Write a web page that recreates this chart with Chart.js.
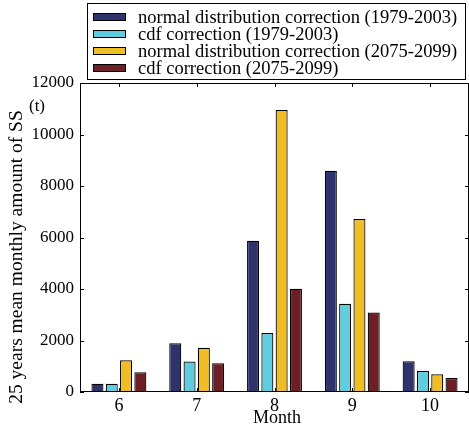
<!DOCTYPE html>
<html>
<head>
<meta charset="utf-8">
<script src="https://cdn.jsdelivr.net/npm/chart.js@4"></script>
<style>
  body { margin: 0; background: #fff; }
  #wrap { width: 469px; height: 430px; }
</style>
</head>
<body>
<div id="wrap"><canvas id="chart"></canvas></div>
<script>
// Data

var months = ['6', '7', '8', '9', '10'];
var normalHist = [320, 1890, 5870, 8590, 1190];
var cdfHist = [320, 1180, 2290, 3430, 815];
var normalFuture = [1230, 1720, 10950, 6720, 690];
var cdfFuture = [770, 1115, 4010, 3090, 545];
var seriesNames = [
    'normal distribution correction (1979-2003)',
    'cdf correction (1979-2003)',
    'normal distribution correction (2075-2099)',
    'cdf correction (2075-2099)'
];
var seriesColors = ['#2f336b', '#5fcde0', '#f0bd24', '#6c1f27'];

var FONT = "'Liberation Serif', 'Times New Roman', serif";
Chart.defaults.font.family = FONT;
Chart.defaults.color = '#000';

// Frame, inward ticks, axis titles and boxed legend

var extras = {
    id: 'extras',
    afterDraw: function (chart) {
        var ctx = chart.ctx;
        var a = chart.chartArea;
        var x = chart.scales.x;
        var y = chart.scales.y;
        ctx.save();
        ctx.strokeStyle = '#000';
        ctx.lineWidth = 1;
        ctx.strokeRect(a.left + 0.5, a.top + 0.5, a.right - a.left - 1, a.bottom - a.top - 1);

        ctx.beginPath();
        x.ticks.forEach(function (t, i) {
            var px = Math.round(x.getPixelForTick(i)) + 0.5;
            ctx.moveTo(px, a.bottom); ctx.lineTo(px, a.bottom - 4);
            ctx.moveTo(px, a.top); ctx.lineTo(px, a.top + 4);
        });
        y.ticks.forEach(function (t, i) {
            var py = Math.round(y.getPixelForTick(i)) + 0.5;
            ctx.moveTo(a.left, py); ctx.lineTo(a.left + 4, py);
            ctx.moveTo(a.right, py); ctx.lineTo(a.right - 4, py);
        });
        ctx.stroke();

        ctx.fillStyle = '#000';
        ctx.font = '18px ' + FONT;
        ctx.textAlign = 'center';
        ctx.textBaseline = 'middle';
        ctx.fillText('Month', 277, 418);

        ctx.font = '17px ' + FONT;
        ctx.fillText('(t)', 37, 107);

        ctx.save();
        ctx.translate(17, 257);
        ctx.rotate(-Math.PI / 2);
        ctx.font = '19.5px ' + FONT;
        ctx.fillText('25 years mean monthly amount of SS', 0, 0);
        ctx.restore();

        // legend box
        ctx.fillStyle = '#fff';
        ctx.fillRect(87, 3, 378, 76);
        ctx.strokeRect(87.5, 3.5, 378, 76);
        ctx.font = '18.5px ' + FONT;
        ctx.textAlign = 'left';
        chart.data.datasets.forEach(function (ds, i) {
            var cy = 17 + i * 17;
            ctx.fillStyle = ds.backgroundColor;
            ctx.fillRect(93, cy - 4, 33, 8);
            ctx.strokeRect(93.5, cy - 3.5, 32, 7);
            ctx.fillStyle = '#000';
            ctx.fillText(ds.label, 138, cy + 1);
        });
        ctx.restore();
    }
};

var config = {
    type: 'bar',
    data: {
        labels: months,
        datasets: [normalHist, cdfHist, normalFuture, cdfFuture].map(function (vals, i) {
            return {
                label: seriesNames[i],
                data: vals,
                backgroundColor: seriesColors[i],
                borderColor: '#000',
                borderWidth: 1.2,
                categoryPercentage: 0.735,
                barPercentage: 0.84
            };
        })
    },
    options: {
        responsive: true,
        maintainAspectRatio: false,
        animation: false,
        layout: { padding: { top: 83, left: 0, right: -3, bottom: 0 } },
        plugins: {
            legend: { display: false },
            tooltip: { enabled: false }
        },
        scales: {
            x: {
                grid: { display: false, drawTicks: false },
                border: { display: false },
                ticks: { font: { size: 18 }, padding: 3 },
                afterFit: function (s) { s.height = 38; }
            },
            y: {
                min: 0,
                max: 12000,
                grid: { display: false, drawTicks: false },
                border: { display: false },
                ticks: {
                    stepSize: 2000,
                    font: { size: 17 },
                    padding: 6,
                    callback: function (v) { return String(v); }
                },
                afterFit: function (s) { s.width = 80; }
            }
        }
    },
    plugins: [extras]
};

window.onload = function () {
    var ctx = document.getElementById('chart').getContext('2d');
    window.myBar = new Chart(ctx, config);
};
</script>
</body>
</html>
